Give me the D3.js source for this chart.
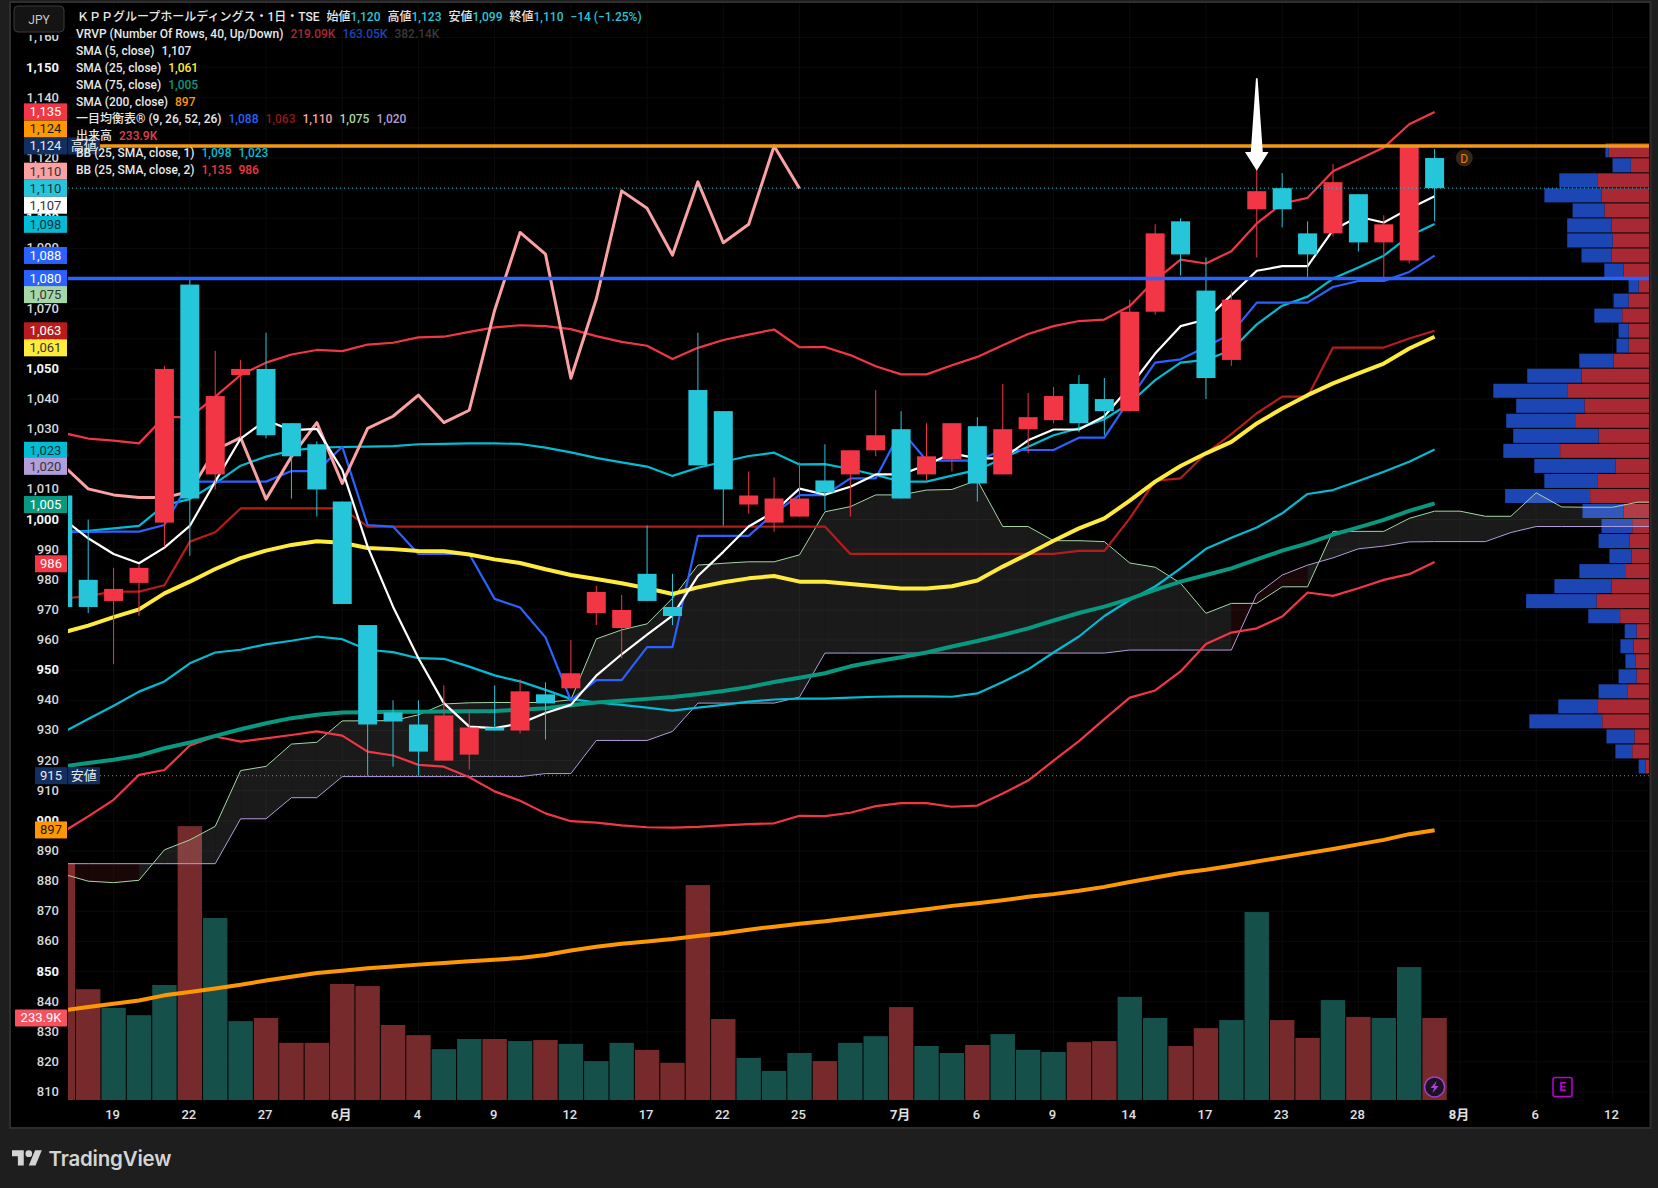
<!DOCTYPE html>
<html>
<head>
<meta charset="utf-8">
<script src="https://cdn.jsdelivr.net/npm/d3@7"></script>
<style>
html,body{margin:0;padding:0;background:#1e1e1e;overflow:hidden;}
text{font-family:Roboto,"Noto Sans CJK JP",sans-serif;}
</style>
</head>
<body>
<script>
//-----------------------------------------------------------------------------------------------------------------DATA
// every series starts one bar before the first full candle (bar -1, cut by the axis)

var opens = [1008,980,973,979,999,1078,1015,1048,1050,1032,
	1025,1006,965,936,932,920,922,931,930,942,
	944,969,964,982,971,1043,1036,1005,999,1001,
	1013,1015,1023,1030,1015,1020,1031,1015,1030,1033,
	1045,1040,1036,1069,1099,1076,1053,1103,1110,1095,
	1095,1108,1092,1086,1120];
var highs = [1008,1000,984,985,1051,1080,1056,1053,1062,1032,
	1026,1006,965,940,940,945,937,945,947,946,
	960,978,975,998,982,1062,1036,1016,1014,1019,
	1025,1023,1043,1036,1032,1032,1034,1045,1042,1044,
	1048,1047,1073,1098,1100,1087,1076,1116,1115,1099,
	1118,1108,1101,1124,1123];
var lows = [971,969,952,968,991,988,1010,1027,1027,1007,
	1001,972,915,918,915,920,917,930,929,927,
	944,965,954,973,965,1018,998,1002,996,1001,
	1003,1001,1021,1007,1013,1016,1006,1015,1022,1032,
	1029,1028,1036,1068,1081,1040,1051,1087,1097,1080,
	1094,1089,1079,1085,1099];
var closes = [971,971,977,984,1050,1007,1041,1050,1028,1021,
	1010,972,932,933,923,935,931,930,943,939,
	949,976,970,973,968,1018,1010,1008,1007,1007,
	1009,1023,1028,1007,1021,1032,1012,1030,1034,1041,
	1032,1036,1069,1095,1088,1047,1073,1109,1103,1088,
	1112,1092,1098,1124,1110];

// volume in thousands of shares, 1 = red bar, 0 = green bar
var volumes = [676,316,263,242,328,781,519,225,234,163,
	163,331,325,214,185,145,174,174,168,171,
	160,111,163,143,106,613,231,120,83,134,
	111,163,182,265,154,134,157,188,143,137,
	165,168,294,234,154,205,228,536,228,177,
	285,237,234,379,233.9];
var volumeUp = [1,1,0,0,0,1,0,0,1,1,
	1,1,1,1,1,0,0,1,0,1,
	0,0,0,1,1,1,1,0,0,0,
	1,0,0,1,0,0,1,0,0,0,
	1,1,0,0,1,1,0,0,1,1,
	0,1,0,0,1];

var sma5 = [1000.3,993.8,988.6,985.5,990.7,997.9,1012.6,1026.9,1033,1029.7,
	1030.1,1016.5,991,971.1,954,939.1,931.3,930.8,932.3,935.8,
	938.5,948.2,955.3,961.8,968.1,981.3,989.3,997.7,1002.6,1010.3,
	1008.3,1010.9,1015,1015,1018.1,1022,1020.3,1020.3,1026.3,1029.9,
	1029.9,1034.3,1044.1,1055.1,1064.2,1066.4,1074.5,1082.6,1084.1,1084.1,
	1096.1,1100.5,1098.6,1103.2,1107.3];
var sma25 = [962.5,964.8,967.6,970.2,975.5,979.4,983.6,987.2,989.7,991.6,
	992.8,992.3,990.6,990.2,989.6,989.5,988.4,986.8,985.6,983.5,
	981.6,980.3,978.9,977.2,975.3,977.5,979.2,980.5,981.3,979.4,
	979.4,978.6,977.9,977.1,977.1,977.9,979.8,984.4,988.6,993,
	997.1,1000.4,1006.3,1012.6,1017.8,1022,1025.8,1031.9,1036.9,1041.3,
	1045.2,1048.5,1051.8,1056.8,1060.7];
var sma75 = [918.1,919.2,920.3,921.7,924.1,926,928.2,930.4,932.4,934.1,
	935.2,936,936.1,936.2,936.2,936.3,936.4,936.5,936.9,937.4,
	938.4,939.3,939.9,940.5,941.1,942,943.1,944.4,946.1,947.5,
	949,951.3,952.9,954.3,955.9,957.9,959.7,961.7,963.9,966.5,
	969,971.1,973.7,976.7,979.4,981.6,983.8,986.8,989.7,992.1,
	995,997.4,999.9,1002.9,1005.4];
var sma200 = [837.1,838.2,839.3,840.4,842.1,843.2,844.4,845.6,847,848.3,
	849.5,850.3,851.1,851.7,852.3,852.8,853.4,853.9,854.5,855.5,
	857,858.2,859.2,860,860.8,861.8,862.7,863.9,864.9,865.9,
	866.7,867.7,868.7,869.7,870.7,871.8,872.7,873.7,874.8,875.7,
	876.8,878.1,879.7,881.2,882.7,883.8,885.1,886.5,887.9,889.3,
	890.7,892.2,893.7,895.6,896.9];

var tenkan = [995.9,995.9,996,996,998.2,1012.6,1012.6,1012.6,1012.6,1016.1,
	1016.1,1024.2,998.2,997.7,988.6,988.6,988.6,973.7,970.8,960.9,
	940,946.7,946.7,957.7,957.7,994.6,994.6,994.6,1002.1,1008.1,
	1008.1,1013.7,1013.7,1029.7,1019.6,1019.6,1019.6,1023.1,1023.1,1023.1,
	1027.2,1027.2,1040,1052.1,1053.2,1057.3,1061.8,1072,1072,1072,
	1077.2,1079.2,1079.2,1082.2,1087.6];
var kijun = [973.7,974.7,976.1,976.1,978.2,992.7,995.8,1003.7,1003.7,1003.7,
	1003.7,1003.7,997.7,997.7,997.7,997.7,997.7,997.7,997.7,997.7,
	997.7,997.7,997.7,997.7,997.7,997.7,997.7,997.7,997.7,997.7,
	997.7,988.6,988.6,988.6,988.6,988.6,988.6,988.6,988.6,988.6,
	989.6,989.6,1000.4,1012.9,1013.7,1022,1028.4,1035.3,1040.8,1040.8,
	1057.1,1057.1,1057.1,1060.1,1062.7];
var chikou = [1018.1,1010.2,1008.2,1007.3,1007.3,1009.3,1023.1,1027.2,1006.8,1020.9,
	1032.2,1012,1030.3,1034.3,1041.3,1032.2,1036.3,1069.5,1095.3,1088.1,
	1046.9,1073.2,1109.1,1103.3,1087.8,1112.1,1091.9,1098,1124,1109.9];
// the two spans run 9 bars past the last candle
var spanA = [882.4,880,879.5,880.3,890.4,893.7,898.2,916.7,918.1,925.5,
	926.1,933.2,933.2,933.3,935.2,938.8,939.2,939.3,939.3,939.3,
	940.2,960.4,963.4,965.4,973.9,984.9,985.5,986,986,988.3,
	1002.6,1004.3,1008.2,1008.2,1009.8,1010,1013.1,997.7,997.7,993,
	993,992.7,985.6,984.2,978.9,968.9,972.2,972.2,977.7,977.7,
	996.1,996.1,996.1,1000.4,1002.8,1002.8,1001.1,1001.1,1008.9,1004.2,
	1004.1,1004.1,1005.8,1005.8];
var spanB = [885.8,885.8,885.8,885.8,885.8,885.8,885.8,900.7,900.7,907.7,
	907.7,914.7,914.7,914.7,914.7,914.7,914.7,914.7,914.7,915.7,
	915.7,926.7,926.7,926.7,929.7,939.1,939.1,939.1,939.1,941.1,
	955.7,955.7,955.7,955.7,955.7,955.7,955.7,955.7,955.7,955.7,
	955.7,955.7,956.7,956.7,956.7,956.7,956.7,975.2,981.6,984.9,
	987.3,990.3,991.2,992.6,992.7,992.7,992.7,995.7,997.7,997.7,
	997.7,997.7,997.7,997.7];

var bb1Up = [995.8,996.3,997.1,997.9,1004.8,1006.8,1012,1017.9,1020.9,1022.9,
	1023.9,1024.1,1024.2,1024.4,1025,1025.1,1025.3,1025.3,1025.1,1023.9,
	1022.3,1020.5,1019,1017.6,1014.5,1017.2,1019.2,1021.1,1022.2,1018.3,
	1018.4,1016.8,1014.8,1012.6,1012.6,1014.6,1016.5,1020.3,1024.2,1028,
	1030.3,1033.3,1038.6,1046.3,1052.1,1053,1056.3,1064.8,1071,1074,
	1080,1083.7,1087.6,1094.1,1098.1];
var bb1Lo = [929.3,933.8,938.2,942.9,946.3,952.3,955.9,956.8,958.6,959.8,
	961.2,960.3,956.8,956,954,953.8,951.2,948.3,946.3,943.5,
	940.5,939.3,938.5,937.6,936.6,937.6,938.5,939.6,940.3,940.6,
	940.6,940.9,941.2,941.3,941.3,941.2,942.3,946.1,950.3,955.9,
	961.2,968,973.3,977.8,983.8,990.3,994,997.4,1002.1,1008.5,
	1009.8,1012.8,1015.9,1019.2,1023.3];
var bb2Up = [1028.8,1026.9,1026.2,1025.3,1034.1,1033.9,1040.8,1048,1052.1,1054.8,
	1056.3,1055.9,1058.1,1058.7,1060.5,1060.7,1062.3,1063.8,1064.5,1064.2,
	1063.2,1060.9,1059,1057.7,1053.3,1057,1059.6,1061.4,1063.1,1057.2,
	1057.3,1054.6,1050.9,1048.2,1048.2,1051.2,1054,1057.9,1061.6,1064.2,
	1065.9,1066.4,1070.9,1079.5,1086.3,1085,1089.1,1098.3,1104.9,1106.8,
	1115.6,1119.5,1123.5,1131.2,1135.3];
var bb2Lo = [896.3,901.5,907,915.3,916.9,925,928,926.3,927.4,928.5,
	929.7,928.3,923,921.7,918.6,918,914.5,909.8,906.7,902.5,
	899.9,899.4,898.5,897.9,897.8,898,898.5,898.9,899.2,901.7,
	901.6,902.7,904.9,905.9,905.9,904.7,905.1,909.1,913.4,920,
	926.5,933.8,940.9,943.3,949.6,958.7,962.5,963.9,967.8,975.8,
	974.7,977.2,980,981.9,985.9];

// volume profile rows, top row first
var profileUp = [40.4,18.2,51.8,47.5,44.6,37.5,36.4,37.5,25.4,10.4,
	20.4,26.8,20.4,20.4,35.4,67.5,81.8,64.6,73.9,50.4,
	88.9,33.6,51.8,58.9,25.4,16.8,19.3,17.5,23.9,37.5,
	52.5,28.9,12.5,15.4,13.2,12.5,21.8,51.8,46.8,14.6,
	16.8,3.2];
var profileDown = [3.2,18.2,37.9,57.1,31.8,44.3,45.4,30,19.3,10,
	15,27.9,10,12.1,34.3,54.3,73.9,68.2,68.9,85.4,
	56.8,81.1,52.9,85,41.1,30.7,31.1,22.1,45.7,57.1,
	70.4,31.8,11.8,13.2,10.4,17.9,28.6,38.9,72.9,27.9,
	16.8,7.1];

var priceTicks = d3.range(810, 1170, 10);
var dateTicks = [1,4,7,10,13,16,19,22,25,28,32,35,38,41,44,47,50,54,57,60];
var dateLabels = ["19","22","27","6月","4","9","12","17","22","25","7月","6","9","14","17","23","28","8月","6","12"];

var tagValues = [1135,1124,1124,1110,1110,1107,1098,1088,1080,1075,1063,1061,1023,1020,1005,986,915,897];
var tagNudge = [-1,-17,0,-17,0,8,0,1,0,1,1,12,0,7,0,2,0,0];
var tagFill = ["#f23645","#ff9800","#132f60","#faa1a4","#26c6da","#ffffff","#00bcd4","#2962ff","#2962ff","#a5d6a7","#b71c1c","#ffeb3b","#00bcd4","#b39ddb","#089981","#f23645","#132f60","#ff9800"];
var tagInk = ["#fff","#1a1a1a","#e8e8e8","#333","#14303a","#333","#14303a","#fff","#fff","#333","#fff","#333","#14303a","#333","#fff","#fff","#e8e8e8","#1a1a1a"];

var legendRows = [
	["VRVP (Number Of Rows, 40, Up/Down)", [["219.09K","#a82834"],["163.05K","#1c46b4"],["382.14K","#3a3a3a"]]],
	["SMA (5, close)", [["1,107","#e8e8e8"]]],
	["SMA (25, close)", [["1,061","#ffeb3b"]]],
	["SMA (75, close)", [["1,005","#089981"]]],
	["SMA (200, close)", [["897","#ff9800"]]],
	["一目均衡表® (9, 26, 52, 26)", [["1,088","#2962ff"],["1,063","#8e1a1a"],["1,110","#faa1a4"],["1,075","#a5d6a7"],["1,020","#b39ddb"]]],
	["出来高", [["233.9K","#e0404e"]]],
	["BB (25, SMA, close, 1)", [["1,098","#00bcd4"],["1,023","#00bcd4"]]],
	["BB (25, SMA, close, 2)", [["1,135","#f23645"],["986","#f23645"]]]
];

//-----------------------------------------------------------------------------------------------------------------SET UP

var WIDTH = 1658, HEIGHT = 1188;
var panel = {"left": 11, "top": 3, "right": 1649.5, "bottom": 1127};
var plot = {"left": 68, "right": 1649, "top": 3, "bottom": 1100};

var RED = "#f23645", CYAN = "#26c6da";

var svg = d3.select("body").append("svg").attr("width", WIDTH).attr("height", HEIGHT).style("display", "block");

var x = d3.scaleLinear().domain([0, 53]).range([88.2, 1434.6]);
var y = d3.scaleLinear().domain([810, 1150]).range([1092.07, 67.65]);
var yVol = d3.scaleLinear().domain([0, 800]).range([plot.bottom, plot.bottom - 280.5]);
var profileWidth = d3.scaleLinear().domain([0, 100]).range([0, 100]);

function barX(k){ return x(k - 1); }	// array position -> bar number -> pixel

svg.append("rect").attr("x", panel.left - 2).attr("y", panel.top - 2)
	.attr("width", panel.right - panel.left + 4).attr("height", panel.bottom - panel.top + 4)
	.attr("fill", "#2e2e2e");
svg.append("rect").attr("x", panel.left).attr("y", panel.top)
	.attr("width", panel.right - panel.left).attr("height", panel.bottom - panel.top)
	.attr("fill", "#000");

svg.append("clipPath").attr("id", "plotClip").append("rect")
	.attr("x", plot.left).attr("y", plot.top)
	.attr("width", plot.right - plot.left).attr("height", plot.bottom - plot.top);

//-----------------------------------------------------------------------------------------------------------------GRID

var chart = svg.append("g").attr("clip-path", "url(#plotClip)");

chart.selectAll(".gridY").data(priceTicks).enter().append("line")
	.attr("x1", plot.left).attr("x2", plot.right)
	.attr("y1", function(d){ return y(d); }).attr("y2", function(d){ return y(d); })
	.attr("stroke", "#0b0b0b");
chart.selectAll(".gridX").data(dateTicks).enter().append("line")
	.attr("x1", function(d){ return x(d); }).attr("x2", function(d){ return x(d); })
	.attr("y1", plot.top).attr("y2", plot.bottom)
	.attr("stroke", "#0b0b0b");

//-----------------------------------------------------------------------------------------------------------------VOLUME PROFILE

var profileTop = 1124.9, profileStep = 4.988;

profileUp.forEach(function(up, k){
	var rowY = y(profileTop - k * profileStep);
	var rowH = y(profileTop - (k + 1) * profileStep) - rowY - 1;
	var upW = profileWidth(up), downW = profileWidth(profileDown[k]);
	chart.append("rect").attr("x", plot.right - upW).attr("y", rowY).attr("width", upW).attr("height", rowH).attr("fill", "#a82834");
	chart.append("rect").attr("x", plot.right - upW - downW).attr("y", rowY).attr("width", downW).attr("height", rowH).attr("fill", "#1c46b4");
});

//-----------------------------------------------------------------------------------------------------------------VOLUME BARS

chart.selectAll(".vol").data(volumes).enter().append("rect")
	.attr("x", function(d, k){ return barX(k) - 12.2; })
	.attr("y", function(d){ return yVol(d); })
	.attr("width", 24.4)
	.attr("height", function(d){ return plot.bottom - yVol(d); })
	.attr("fill", function(d, k){ return volumeUp[k] ? "#762a2b" : "#15504b"; });

//-----------------------------------------------------------------------------------------------------------------ICHIMOKU CLOUD

// colour changes bar by bar and not at the crossing, so one piece per gap
var cloud = d3.area()
	.x(function(d){ return barX(d); })
	.y0(function(d){ return y(spanA[d]); })
	.y1(function(d){ return y(spanB[d]); });

for(var k = 0; k < spanA.length - 1; k++){
	chart.append("path").datum([k, k + 1])
		.attr("d", cloud)
		.attr("fill", spanA[k + 1] >= spanB[k + 1] ? "rgba(255,255,255,0.1)" : "rgba(242,54,69,0.1)");
}

//-----------------------------------------------------------------------------------------------------------------LINES

function drawLine(values, color, width){
	var line = d3.line()
		.x(function(d, k){ return barX(k); })
		.y(function(d){ return y(d); });
	chart.append("path").datum(values)
		.attr("d", line)
		.attr("fill", "none")
		.attr("stroke", color)
		.attr("stroke-width", width)
		.attr("stroke-linejoin", "round");
}

drawLine(spanA, "#a5d6a7", 1);
drawLine(spanB, "#b39ddb", 1);
drawLine(bb2Up, RED, 2.2);
drawLine(bb2Lo, RED, 2.2);
drawLine(bb1Up, "#00bcd4", 2.2);
drawLine(bb1Lo, "#00bcd4", 2.2);
drawLine(kijun, "#b71c1c", 2.2);
drawLine(tenkan, "#2962ff", 2.2);
drawLine(chikou, "#faa1a4", 3);
drawLine(sma200, "#ff9800", 4);
drawLine(sma75, "#089981", 4);
drawLine(sma25, "#ffeb3b", 4);
drawLine(sma5, "#ffffff", 2.2);

//-----------------------------------------------------------------------------------------------------------------CANDLES

function candleColor(k){ return closes[k] >= opens[k] ? RED : CYAN; }

chart.selectAll(".wick").data(opens).enter().append("line")
	.attr("x1", function(d, k){ return barX(k); })
	.attr("x2", function(d, k){ return barX(k); })
	.attr("y1", function(d, k){ return y(highs[k]); })
	.attr("y2", function(d, k){ return y(lows[k]); })
	.attr("stroke", function(d, k){ return candleColor(k); })
	.attr("stroke-width", 1);

chart.selectAll(".body").data(opens).enter().append("rect")
	.attr("x", function(d, k){ return barX(k) - 9.5; })
	.attr("y", function(d, k){ return y(Math.max(d, closes[k])); })
	.attr("width", 19)
	.attr("height", function(d, k){ return Math.abs(y(d) - y(closes[k])); })
	.attr("fill", function(d, k){ return candleColor(k); });

//-----------------------------------------------------------------------------------------------------------------DRAWN LEVELS

function hLine(price, x1, color, width, dash){
	var l = chart.append("line")
		.attr("x1", x1).attr("x2", plot.right)
		.attr("y1", y(price)).attr("y2", y(price))
		.attr("stroke", color).attr("stroke-width", width);
	if(dash) l.attr("stroke-dasharray", dash);
}

hLine(1110, plot.left, CYAN, 1, "1,3");
hLine(915, 100, "#8a8a8a", 1, "1,3");
hLine(1124, 100, "#ff9800", 3.5);
hLine(1124, 100, "#9a9a9a", 1, "1,3");
hLine(1080, plot.left, "#2962ff", 3.5);

// arrow pointing down at the candle of bar 46
var arrowTop = y(1146.5), arrowBase = y(1122), arrowTip = y(1115.8);
var arrowPts = [[-0.8, arrowTop], [0.8, arrowTop], [6, arrowBase], [11.8, arrowBase], [0, arrowTip], [-11.8, arrowBase], [-6, arrowBase]];
chart.append("path").datum(arrowPts)
	.attr("d", d3.line().x(function(d){ return x(46) + d[0]; }).y(function(d){ return d[1]; }))
	.attr("fill", "#fff");

//-----------------------------------------------------------------------------------------------------------------AXES

var yAxis = svg.append("g").attr("transform", "translate(59,-0.7)")
	.call(d3.axisLeft(y).tickValues(priceTicks).tickSize(0).tickPadding(0).tickFormat(d3.format(",")));
yAxis.select(".domain").remove();
yAxis.selectAll("text")
	.attr("font-size", 13)
	.attr("font-weight", function(d){ return d % 50 == 0 ? 700 : 500; })
	.attr("fill", function(d){ return d % 50 == 0 ? "#f5f5f5" : "#d8d8d8"; })
	.style("font-family", "Roboto, sans-serif");

var xAxis = svg.append("g").attr("transform", "translate(-1.5," + (plot.bottom + 10) + ")")
	.call(d3.axisBottom(x).tickValues(dateTicks).tickSize(0).tickPadding(0)
		.tickFormat(function(d){ return dateLabels[dateTicks.indexOf(d)]; }));
xAxis.select(".domain").remove();
xAxis.selectAll("text")
	.attr("font-size", 13)
	.attr("font-weight", function(d){ return [10, 32, 54].indexOf(d) >= 0 ? 700 : 500; })
	.attr("fill", "#e0e0e0")
	.style("font-family", "Roboto, 'Noto Sans CJK JP', sans-serif");

//-----------------------------------------------------------------------------------------------------------------PRICE TAGS

function priceTag(x1, x2, cy, fill, ink, label, radius){
	svg.append("rect").attr("x", x1).attr("y", cy - 8.5).attr("width", x2 - x1).attr("height", 17)
		.attr("rx", radius || 0).attr("fill", fill);
	svg.append("text").attr("x", (x1 + x2) / 2).attr("y", cy + 4.5)
		.attr("text-anchor", "middle").attr("font-size", 13).attr("fill", ink).text(label);
}

tagValues.forEach(function(v, k){
	var left = v < 1000 ? 35 : 24;
	priceTag(left, 67, y(v) + tagNudge[k], tagFill[k], tagInk[k], d3.format(",")(v));
});
priceTag(15, 67, yVol(233.9) + 0, "#f7525f", "#fff", "233.9K", 1);
priceTag(67.5, 100, y(1124), "rgba(19,47,96,0.9)", "#e8e8e8", "高値", 1);
priceTag(67.5, 100, y(915), "#132f60", "#e8e8e8", "安値", 1);

//-----------------------------------------------------------------------------------------------------------------LEGEND

// the header strip cuts the top tick label in half
svg.append("rect").attr("x", panel.left).attr("y", panel.top).attr("width", 57).attr("height", 32).attr("fill", "#000");
svg.append("rect").attr("x", 14).attr("y", 6).attr("width", 50).attr("height", 26).attr("rx", 4)
	.attr("fill", "#141414").attr("stroke", "#3a3a3a");
svg.append("text").attr("x", 39).attr("y", 24).attr("text-anchor", "middle")
	.attr("font-size", 12).attr("fill", "#c8c8c8").text("JPY");

var title = svg.append("text").attr("x", 77).attr("y", 21).attr("font-size", 12).attr("font-weight", 500).attr("fill", "#e8e8e8");
title.append("tspan").text("ＫＰＰグループホールディングス・1日・TSE");
[["始値", "1,120"], ["高値", "1,123"], ["安値", "1,099"], ["終値", "1,110"]].forEach(function(p){
	title.append("tspan").attr("dx", 7).text(p[0]);
	title.append("tspan").attr("fill", CYAN).text(p[1]);
});
title.append("tspan").attr("dx", 7).attr("fill", CYAN).text("−14 (−1.25%)");

legendRows.forEach(function(row, k){
	var t = svg.append("text").attr("x", 76).attr("y", 38 + k * 17).attr("font-size", 12).attr("font-weight", 500).attr("fill", "#e8e8e8");
	t.append("tspan").text(row[0]);
	row[1].forEach(function(v){
		t.append("tspan").attr("dx", 7).attr("fill", v[1]).text(v[0]);
	});
});

//-----------------------------------------------------------------------------------------------------------------EVENT MARKERS

var markerY = y(811.7);

// dividend
svg.append("circle").attr("cx", 1464.3).attr("cy", y(1120)).attr("r", 8.5).attr("fill", "#33261a");
svg.append("text").attr("x", 1464.3).attr("y", y(1120) + 4.5).attr("text-anchor", "middle")
	.attr("font-size", 12).attr("fill", "#ef7c00").text("D");

// split, bolt drawn inside a circle
svg.append("circle").attr("cx", x(53)).attr("cy", markerY).attr("r", 10)
	.attr("fill", "#1c1226").attr("stroke", "#9c3fc0").attr("stroke-width", 1.5);
var bolt = [[2, -6], [-4, 1], [-0.5, 1], [-2, 6], [4, -1], [0.5, -1]];
svg.append("path").datum(bolt)
	.attr("d", d3.line().x(function(d){ return x(53) + d[0]; }).y(function(d){ return markerY + d[1]; }))
	.attr("fill", "#a845d0");

// earnings
svg.append("rect").attr("x", 1553).attr("y", markerY - 9.5).attr("width", 19).attr("height", 19).attr("rx", 2)
	.attr("fill", "#000").attr("stroke", "#c400d6").attr("stroke-width", 1.5);
svg.append("text").attr("x", 1562.5).attr("y", markerY + 4.5).attr("text-anchor", "middle")
	.attr("font-size", 12).attr("font-weight", 700).attr("fill", "#c400d6").text("E");

//-----------------------------------------------------------------------------------------------------------------LOGO

var logo = svg.append("g").attr("transform", "translate(12,1147) scale(0.84)").attr("fill", "#d4d4d4");
logo.append("path").attr("d", "M14 22H7V11H0V4h14v18zM28 22h-8l7.5-18h8L28 22z");
logo.append("circle").attr("cx", 20).attr("cy", 8).attr("r", 4);
svg.append("text").attr("x", 48.5).attr("y", 1166).attr("font-size", 20.5).attr("font-weight", 600)
	.attr("letter-spacing", -0.2)
	.attr("fill", "#d4d4d4").style("font-family", "Inter, Roboto, sans-serif").text("TradingView");
</script>
</body>
</html>
